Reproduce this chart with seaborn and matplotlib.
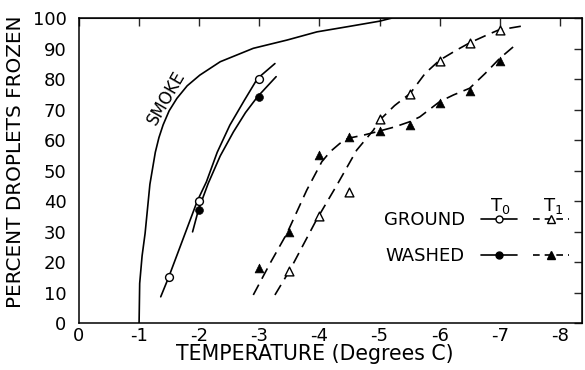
import matplotlib
matplotlib.use("Agg")
import matplotlib.pyplot as plt
from matplotlib.lines import Line2D
import seaborn as sns
import pandas as pd

# ---- data ----
smoke_t = [-1.0, -1.01, -1.05, -1.1, -1.18, -1.27, -1.33, -1.4, -1.5, -1.63, -1.8, -2.01,
           -2.35, -2.9, -3.46, -3.96, -4.5, -5.0, -5.2]
smoke_p = [0, 13, 22, 29.4, 45.5, 56, 60.8, 65, 69.6, 73.7, 77.8, 81.3,
           85.7, 90.1, 92.8, 95.5, 97.3, 99, 100]

ground_t0_curve_t = [-1.36, -1.49, -1.97, -2.12, -2.3, -2.51, -2.75, -2.97, -3.26]
ground_t0_curve_p = [8.6, 14.9, 40.1, 46.3, 56, 64.9, 73, 80.2, 85.1]
washed_t0_curve_t = [-1.89, -1.99, -2.15, -2.35, -2.57, -2.77, -2.97, -3.28]
washed_t0_curve_p = [29.9, 37.3, 45.8, 54.8, 62.7, 69, 74.2, 80.8]

ground_t1_curve_t = [-3.26, -3.51, -3.95, -4.29, -4.62, -4.9, -5.0, -5.25, -5.51, -5.76,
                     -6.0, -6.28, -6.5, -6.78, -6.98, -7.37]
ground_t1_curve_p = [9.2, 17.4, 33.8, 45.2, 56.7, 63.3, 66.5, 71.3, 75.3, 81.9,
                     86.2, 89.5, 91.9, 94.4, 96.1, 97.4]
washed_t1_curve_t = [-2.9, -3.18, -3.46, -3.79, -4.04, -4.18, -4.34, -4.48, -4.73, -4.95,
                     -5.25, -5.5, -5.67, -6.0, -6.23, -6.5, -6.76, -7.0, -7.28]
washed_t1_curve_p = [9.2, 19.6, 29.4, 43.6, 52.9, 56.2, 58.9, 60.6, 61.6, 62.7,
                     64.3, 66, 67.6, 72.6, 74.8, 77, 81.9, 86.8, 91.5]

ground_t0_t = [-1.5, -2.0, -3.0]
ground_t0_p = [15, 40, 80]
washed_t0_t = [-2.0, -3.0]
washed_t0_p = [37, 74]
ground_t1_t = [-3.5, -4.0, -4.5, -5.0, -5.5, -6.0, -6.5, -7.0]
ground_t1_p = [17, 35, 43, 67, 75, 86, 92, 96]
washed_t1_t = [-3.0, -3.5, -4.0, -4.5, -5.0, -5.5, -6.0, -6.5, -7.0]
washed_t1_p = [18, 30, 55, 61, 63, 65, 72, 76, 86]

x_ticks = [0, -1, -2, -3, -4, -5, -6, -7, -8]
y_ticks = [0, 10, 20, 30, 40, 50, 60, 70, 80, 90, 100]

sns.set_style("white")
plt.rcParams['font.family'] = ['DejaVu Sans']
plt.rcParams['axes.unicode_minus'] = False
plt.rcParams['text.color'] = 'black'
plt.rcParams['axes.labelcolor'] = 'black'

fig = plt.figure(figsize=(5.85, 3.7), dpi=100)
ax = fig.add_axes([0.135, 0.127, 0.86, 0.824])

LW = 1.2
DASH = (7, 4)

def curve(t, p, dashed):
    df = pd.DataFrame({"t": t, "p": p})
    sns.lineplot(data=df, x="t", y="p", sort=False, estimator=None, color="black",
                 lw=LW, ax=ax, dashes=False)
    line = ax.lines[-1]
    line.set_solid_joinstyle("round")
    line.set_dash_joinstyle("round")
    if dashed:
        line.set_dashes(DASH)

curve(smoke_t, smoke_p, False)
curve(ground_t0_curve_t, ground_t0_curve_p, False)
curve(washed_t0_curve_t, washed_t0_curve_p, False)
curve(ground_t1_curve_t, ground_t1_curve_p, True)
curve(washed_t1_curve_t, washed_t1_curve_p, True)

sns.scatterplot(x=ground_t0_t, y=ground_t0_p, marker="o", s=32, facecolor="white",
                edgecolor="black", linewidth=1.0, ax=ax, zorder=3)
sns.scatterplot(x=washed_t0_t, y=washed_t0_p, marker="o", s=32, color="black",
                edgecolor="black", ax=ax, zorder=3)
sns.scatterplot(x=ground_t1_t, y=ground_t1_p, marker="^", s=40, facecolor="white",
                edgecolor="black", linewidth=1.0, ax=ax, zorder=3)
sns.scatterplot(x=washed_t1_t, y=washed_t1_p, marker="^", s=40, color="black",
                edgecolor="black", ax=ax, zorder=3)

ax.set_xlim(0, -8.37)
ax.set_ylim(0, 100)
ax.set_xticks(x_ticks)
ax.set_xticklabels([str(v) for v in x_ticks])
ax.set_yticks(y_ticks)
ax.tick_params(axis="x", direction="in", length=6, width=1, labelsize=13, pad=3, colors="black")
ax.tick_params(axis="y", direction="out", length=7, width=1, labelsize=13, pad=2, colors="black")
for s in ax.spines.values():
    s.set_color("black")
    s.set_linewidth(1.1)

top = ax.secondary_xaxis("top")
top.set_xticks(x_ticks)
top.tick_params(direction="in", length=6, width=1, labeltop=False)
right = ax.secondary_yaxis("right")
right.set_yticks(y_ticks)
right.tick_params(direction="in", length=6, width=1, labelright=False)

ax.set_xlabel("TEMPERATURE (Degrees C)", fontsize=14.8)
ax.set_ylabel("PERCENT DROPLETS FROZEN", fontsize=14.4)
ax.xaxis.set_label_coords(0.469, -0.068)
ax.yaxis.set_label_coords(-0.108, 0.53)

ax.text(-1.45, 74, "SMOKE", rotation=60, fontsize=12, ha="center", va="center")

# legend: row labels on the left, T0 / T1 columns of handles
h_g0 = Line2D([], [], color="black", lw=LW, marker="o", ms=5, mfc="white", mec="black")
h_w0 = Line2D([], [], color="black", lw=LW, marker="o", ms=5, mfc="black", mec="black")
h_g1 = Line2D([], [], color="black", lw=LW, ls=(0, (4, 3)), marker="^", ms=6, mfc="white", mec="black")
h_w1 = Line2D([], [], color="black", lw=LW, ls=(0, (4, 3)), marker="^", ms=6, mfc="black", mec="black")
ax.legend(handles=[h_g0, h_w0, h_g1, h_w1], labels=["GROUND", "WASHED", "", ""],
          ncol=2, markerfirst=False, frameon=False, fontsize=13,
          handlelength=2.0, handletextpad=0.9, columnspacing=0.0, labelspacing=1.0,
          borderpad=0, borderaxespad=0, loc="center right", bbox_to_anchor=(0.975, 0.279),
          labelcolor="black")
ax.text(0.837, 0.385, "T$_0$", transform=ax.transAxes, fontsize=13, ha="center", va="center")
ax.text(0.942, 0.385, "T$_1$", transform=ax.transAxes, fontsize=13, ha="center", va="center")

fig.savefig("out.png", dpi=100)
